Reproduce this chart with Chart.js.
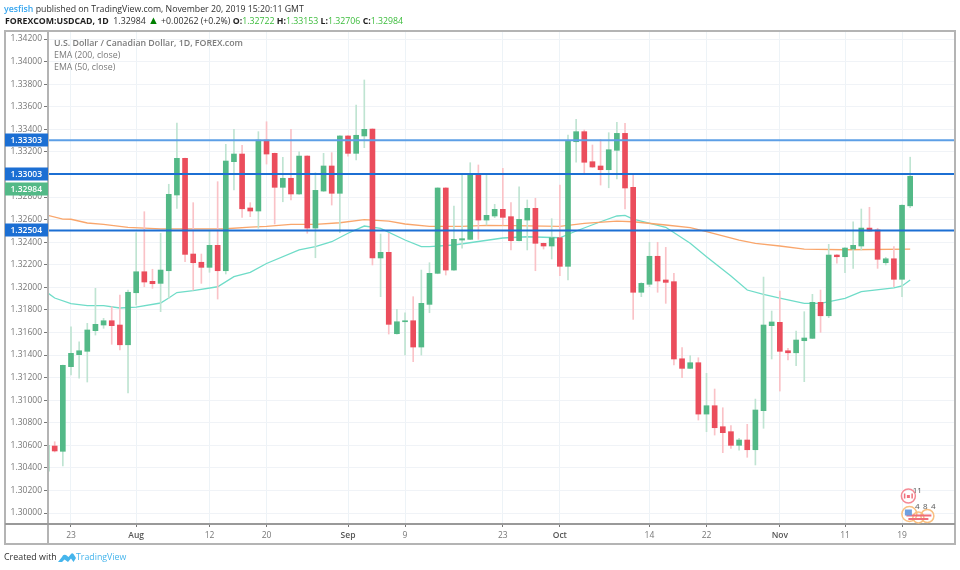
<!DOCTYPE html>
<html>
<head>
<meta charset="utf-8">
<title>USDCAD</title>
<script src="https://cdn.jsdelivr.net/npm/chart.js@4/dist/chart.umd.min.js"></script>
<style>
  html, body { margin: 0; padding: 0; background: #fff; }
  body { width: 960px; height: 570px; position: relative; overflow: hidden; font-family: "Open Sans", sans-serif; }
  #wrap { position: absolute; left: 0; top: 0; width: 960px; height: 570px; }
  .txt { position: absolute; white-space: nowrap; }
  #line1 { left: 4px; top: 2px; font-size: 8.75px; line-height: 14px; color: #2f2f2f; }
  #line1 b { color: #37a6ef; font-weight: 600; }
  #line2 { left: 5px; top: 14px; font-size: 8.75px; line-height: 14px; color: #2f2f2f; }
  #line2 b { font-weight: 700; color: #1e1e1e; }
  #line2 i { font-style: normal; color: #3cbc3c; }
  #line2 u { text-decoration: none; color: #008000; font-size: 11px; line-height: 10px; }
  .legend { left: 54px; font-size: 8.8px; line-height: 12px; color: #7b7b7b; }
  #foot { left: 4px; top: 550px; font-size: 8.9px; line-height: 14px; color: #2f2f2f; }
  #foot2 { left: 76px; top: 550px; font-size: 8.8px; line-height: 14px; color: #46b5ec; }
  #logo { position: absolute; left: 58px; top: 552px; }
</style>
</head>
<body>
<div id="wrap"><canvas id="usdcad" width="960" height="570"></canvas></div>
<div class="txt" id="line1"><b>yesfish</b> published on TradingView.com, November 20, 2019 15:20:11 GMT</div>
<div class="txt" id="line2"><b>FOREXCOM:USDCAD, 1D</b> &nbsp;1.32984 <u>▲</u> +0.00262 (+0.2%) <b>O:</b><i>1.32722</i> <b>H:</b><i>1.33153</i> <b>L:</b><i>1.32706</i> <b>C:</b><i>1.32984</i></div>
<div class="txt legend" style="top:37px;font-weight:600">U.S. Dollar / Canadian Dollar, 1D, FOREX.com</div>
<div class="txt legend" style="top:49px">EMA (200, close)</div>
<div class="txt legend" style="top:61px">EMA (50, close)</div>
<div class="txt" id="foot">Created with</div>
<svg id="logo" width="18" height="11" viewBox="0 0 18 11"><path d="M0 10 L4 5 Q5 2 8 3 L10.5 5 L13 2 Q14 0.5 15.5 2 L18 6 L15.5 10 L13 6.5 L10 10 L6.5 7.5 L4 10 Z" fill="#46b5ec"/></svg>
<div class="txt" id="foot2">TradingView</div>

<script>
// Candles, one entry per daily bar
const opens = [
  1.30370, 1.30594, 1.30547, 1.31297, 1.31403, 1.31433, 1.31616, 1.31666, 1.31704, 1.31666,
  1.31491, 1.31952, 1.32138, 1.32053, 1.32035, 1.32147, 1.32818, 1.33143, 1.32295, 1.32222,
  1.32177, 1.32372, 1.32147, 1.33113, 1.33181, 1.32703, 1.32676, 1.33305, 1.33187, 1.32886,
  1.32966, 1.32827, 1.33163, 1.32525, 1.32853, 1.33075, 1.32833, 1.33341, 1.33187, 1.33341,
  1.33403, 1.32260, 1.32310, 1.31589, 1.31695, 1.31704, 1.31471, 1.31849, 1.32124, 1.32880,
  1.32153, 1.32419, 1.32425, 1.33004, 1.32596, 1.32632, 1.32691, 1.32626, 1.32413, 1.32596,
  1.32700, 1.32390, 1.32366, 1.32439, 1.32186, 1.33290, 1.33379, 1.33113, 1.33075, 1.33042,
  1.33214, 1.33364, 1.32886, 1.31956, 1.32027, 1.32275, 1.32065, 1.32050, 1.31367, 1.31282,
  1.31332, 1.30877, 1.30951, 1.30765, 1.30721, 1.30600, 1.30647, 1.30561, 1.30907, 1.31660,
  1.31690, 1.31438, 1.31420, 1.31527, 1.31548, 1.31867, 1.31748, 1.32286, 1.32271, 1.32339,
  1.32366, 1.32525, 1.32508, 1.32218, 1.32253, 1.32071, 1.32722
];
const highs = [
  1.30610, 1.30632, 1.31312, 1.31651, 1.31518, 1.31681, 1.31991, 1.31725, 1.31828, 1.31932,
  1.31976, 1.32484, 1.32670, 1.32160, 1.32479, 1.32913, 1.33456, 1.33146, 1.32750, 1.32295,
  1.32508, 1.32936, 1.33267, 1.33400, 1.33258, 1.32750, 1.33379, 1.33467, 1.33190, 1.33152,
  1.33400, 1.33201, 1.33166, 1.33015, 1.33187, 1.33193, 1.33344, 1.33344, 1.33615, 1.33837,
  1.33405, 1.32472, 1.32479, 1.31805, 1.31775, 1.31917, 1.32153, 1.32218, 1.32883, 1.32883,
  1.32720, 1.33004, 1.33104, 1.33084, 1.33010, 1.32735, 1.33054, 1.32750, 1.32891, 1.32774,
  1.32789, 1.32393, 1.32608, 1.32906, 1.33349, 1.33489, 1.33394, 1.33261, 1.33311, 1.33370,
  1.33462, 1.33453, 1.32995, 1.32041, 1.32399, 1.32399, 1.32354, 1.32124, 1.31465, 1.31394,
  1.31376, 1.31238, 1.31099, 1.30933, 1.30774, 1.30662, 1.30786, 1.31010, 1.32091, 1.31790,
  1.31967, 1.31459, 1.31613, 1.31784, 1.31938, 1.31976, 1.32381, 1.32289, 1.32351, 1.32581,
  1.32694, 1.32709, 1.32523, 1.32266, 1.32360, 1.32730, 1.33153
];
const lows = [
  1.30355, 1.30541, 1.30417, 1.31223, 1.31196, 1.31161, 1.31577, 1.31637, 1.31495, 1.31445,
  1.31064, 1.31843, 1.32005, 1.31991, 1.31784, 1.31903, 1.32700, 1.32227, 1.31976, 1.32035,
  1.32133, 1.31896, 1.32118, 1.32862, 1.32620, 1.32626, 1.32523, 1.33092, 1.32561, 1.32758,
  1.32774, 1.32822, 1.32479, 1.32262, 1.32849, 1.32729, 1.32484, 1.33163, 1.33128, 1.33237,
  1.32198, 1.31917, 1.31586, 1.31586, 1.31400, 1.31341, 1.31400, 1.31775, 1.32120, 1.32109,
  1.32149, 1.32346, 1.32422, 1.32425, 1.32552, 1.32617, 1.32552, 1.32331, 1.32411, 1.32331,
  1.32147, 1.32339, 1.32251, 1.32103, 1.32065, 1.33108, 1.33004, 1.33062, 1.32906, 1.32882,
  1.32960, 1.32694, 1.31716, 1.31917, 1.32005, 1.31956, 1.31858, 1.31312, 1.31199, 1.31279,
  1.30824, 1.30721, 1.30691, 1.30535, 1.30573, 1.30558, 1.30494, 1.30426, 1.30751, 1.31365,
  1.31081, 1.31356, 1.31305, 1.31164, 1.31545, 1.31601, 1.31731, 1.32213, 1.32129, 1.32168,
  1.32331, 1.32496, 1.32168, 1.32198, 1.32005, 1.31917, 1.32706
];
const closes = [
  1.30600, 1.30550, 1.31309, 1.31415, 1.31438, 1.31622, 1.31672, 1.31704, 1.31660, 1.31491,
  1.31956, 1.32138, 1.32047, 1.32032, 1.32153, 1.32824, 1.33143, 1.32292, 1.32218, 1.32177,
  1.32372, 1.32147, 1.33119, 1.33181, 1.32696, 1.32676, 1.33305, 1.33181, 1.32886, 1.32966,
  1.32827, 1.33163, 1.32525, 1.32859, 1.33075, 1.32833, 1.33341, 1.33187, 1.33347, 1.33400,
  1.32260, 1.32310, 1.31672, 1.31695, 1.31704, 1.31471, 1.31858, 1.32124, 1.32880, 1.32153,
  1.32425, 1.32431, 1.33004, 1.32596, 1.32638, 1.32691, 1.32620, 1.32413, 1.32602, 1.32700,
  1.32390, 1.32366, 1.32439, 1.32186, 1.33299, 1.33379, 1.33108, 1.33066, 1.33042, 1.33219,
  1.33364, 1.32880, 1.31956, 1.32035, 1.32275, 1.32056, 1.32044, 1.31365, 1.31282, 1.31332,
  1.30877, 1.30951, 1.30756, 1.30712, 1.30600, 1.30647, 1.30561, 1.30913, 1.31666, 1.31693,
  1.31433, 1.31420, 1.31533, 1.31551, 1.31867, 1.31748, 1.32286, 1.32271, 1.32348, 1.32372,
  1.32525, 1.32499, 1.32248, 1.32253, 1.32071, 1.32727, 1.32984
];

const ema200Bars = [0, 2, 3, 5, 7, 10, 12, 14, 19, 22, 25, 27, 30, 33, 36, 39, 42, 44, 47, 51, 54, 57, 63, 66, 70, 72, 76, 79, 81, 85, 87, 90, 93, 98, 106];
const ema200 = [
  1.32641, 1.32605, 1.32603, 1.32570, 1.32558, 1.32532, 1.32525, 1.32517, 1.32517, 1.32519,
  1.32534, 1.32540, 1.32558, 1.32558, 1.32572, 1.32599, 1.32587, 1.32561, 1.32540, 1.32540,
  1.32549, 1.32546, 1.32540, 1.32567, 1.32587, 1.32581, 1.32552, 1.32528, 1.32493, 1.32419,
  1.32390, 1.32366, 1.32339, 1.32333, 1.32339
];
const ema50Bars = [0, 1, 3, 5, 7, 9, 11, 14, 15, 16, 18, 21, 23, 25, 27, 31, 33, 35, 37, 39, 41, 44, 46, 47, 50, 53, 56, 59, 63, 65, 68, 70, 71, 72, 76, 79, 81, 84, 86, 88, 90, 93, 95, 98, 100, 104, 105, 106];
const ema50 = [
  1.31958, 1.31905, 1.31856, 1.31837, 1.31837, 1.31817, 1.31825, 1.31861, 1.31905, 1.31954,
  1.31970, 1.32005, 1.32094, 1.32133, 1.32211, 1.32331, 1.32360, 1.32404, 1.32479, 1.32543,
  1.32523, 1.32419, 1.32360, 1.32360, 1.32375, 1.32406, 1.32437, 1.32448, 1.32439, 1.32499,
  1.32581, 1.32632, 1.32638, 1.32605, 1.32532, 1.32390, 1.32271, 1.32100, 1.31976, 1.31938,
  1.31905, 1.31858, 1.31858, 1.31903, 1.31961, 1.31996, 1.32012, 1.32065
];

// Horizontal levels and the price labels on the axis
const levels = [1.33303, 1.33003, 1.32504];
const levelColors = ['#5d9fe6', '#1c6fd3', '#1c6fd3'];
const lastPrice = 1.32984;

// Axis ticks
const yTicks = [1.34200, 1.34000, 1.33800, 1.33600, 1.33400, 1.33200, 1.33000, 1.32800, 1.32600, 1.32400, 1.32200, 1.32000, 1.31800, 1.31600, 1.31400, 1.31200, 1.31000, 1.30800, 1.30600, 1.30400, 1.30200, 1.30000];
const xTickBars = [3, 11, 20, 27, 37, 44, 56, 63, 74, 81, 90, 98, 105];
const xTickLabels = ['23', 'Aug', '12', '20', 'Sep', '9', '23', 'Oct', '14', '22', 'Nov', '11', '19'];

const xMin = 0.178;
const xMax = 111.5;
const yMin = 1.29903;
const yMax = 1.34271;

const GREEN = '#53b987';
const RED = '#eb4d5c';
const GREEN_WICK = '#bfe4d2';
const RED_WICK = '#fac2c7';
const FONT = '"Open Sans", sans-serif';

function isUp(i) {
  return closes[i] >= opens[i];
}

// month names are printed a bit stronger than day numbers
function isMonth(ctx) {
  if (!ctx.tick) return false;
  return isNaN(Number(xTickLabels[xTickBars.indexOf(ctx.tick.value)]));
}

// Frame, price boxes and the event markers near the last bars
const overlay = {
  id: 'overlay',
  afterDraw(chart) {
    const ctx = chart.ctx;
    const y = chart.scales.y;
    const x = chart.scales.x;
    const area = chart.chartArea;

    ctx.save();
    ctx.strokeStyle = '#b4b4b4';
    ctx.lineWidth = 2;
    ctx.strokeRect(5, 31, 950, 513);
    ctx.beginPath();
    ctx.moveTo(area.left, 31);
    ctx.lineTo(area.left, 544);
    ctx.stroke();
    ctx.strokeStyle = '#999';
    ctx.beginPath();
    ctx.moveTo(5, area.bottom);
    ctx.lineTo(955, area.bottom);
    ctx.stroke();

    // price labels on the axis, the last price sits under the level it would overlap
    ctx.font = '600 8.5px ' + FONT;
    ctx.textAlign = 'right';
    ctx.textBaseline = 'middle';
    const boxes = levels.map(v => ({ v: v, color: '#1c6fd3', shift: 0 }));
    boxes.push({ v: lastPrice, color: GREEN, shift: 13 });
    boxes.forEach(b => {
      const py = Math.round(y.getPixelForValue(b.v)) + b.shift;
      ctx.fillStyle = b.color;
      ctx.fillRect(5, py - 6.5, 43, 13);
      ctx.fillStyle = '#fff';
      ctx.fillText(b.v.toFixed(5), 42, py + 0.5);
    });

    // event markers, Canada then the three US ones
    const mx = x.getPixelForValue(105.9);
    const bottom = y.getPixelForValue(yMin);
    ctx.lineWidth = 1.5;
    ctx.strokeStyle = '#f58a95';
    ctx.beginPath();
    ctx.arc(mx - 1, bottom - 28, 7, 0, Math.PI * 2);
    ctx.stroke();
    ctx.fillStyle = '#f0707c';
    ctx.fillRect(mx - 5.5, bottom - 30.5, 1.5, 5);
    ctx.fillRect(mx + 2, bottom - 30.5, 1.5, 5);
    ctx.fillRect(mx - 2.5, bottom - 29, 3, 3);

    ctx.strokeStyle = '#f9bf80';
    [[0, -10, 7.5], [9, -6.5, 5.5], [18, -8, 6.5]].forEach(o => {
      ctx.beginPath();
      ctx.arc(mx + o[0], bottom + o[1], o[2], 0, Math.PI * 2);
      ctx.stroke();
    });
    ctx.fillStyle = '#ef6f7b';
    ctx.fillRect(mx - 3, bottom - 9.5, 25, 2);
    ctx.fillRect(mx - 1, bottom - 6, 20, 2);
    ctx.fillStyle = '#6f9fe0';
    ctx.fillRect(mx - 4.5, bottom - 14.5, 7, 6);

    ctx.fillStyle = '#555';
    ctx.font = '8px ' + FONT;
    ctx.textAlign = 'center';
    ctx.fillText('11', mx + 8, bottom - 33);
    ctx.fillText('4', mx + 8, bottom - 17);
    ctx.fillText('8', mx + 16, bottom - 17);
    ctx.fillText('4', mx + 24, bottom - 17);
    ctx.restore();
  }
};

const datasets = [
  {
    type: 'bar',
    order: 3,
    grouped: false,
    barThickness: 1,
    data: highs.map((h, i) => ({ x: i, y: [lows[i], h] })),
    backgroundColor: highs.map((h, i) => isUp(i) ? GREEN_WICK : RED_WICK)
  },
  {
    type: 'bar',
    order: 2,
    grouped: false,
    barThickness: 5,
    data: opens.map((o, i) => ({ x: i, y: [o, closes[i]] })),
    backgroundColor: opens.map((o, i) => isUp(i) ? GREEN : RED)
  },
  {
    type: 'line',
    order: 4,
    data: ema200.map((v, i) => ({ x: ema200Bars[i], y: v })),
    borderColor: '#f9a66c',
    borderWidth: 1.3,
    pointRadius: 0,
    tension: 0
  },
  {
    type: 'line',
    order: 4,
    data: ema50.map((v, i) => ({ x: ema50Bars[i], y: v })),
    borderColor: '#6fdcc8',
    borderWidth: 1.3,
    pointRadius: 0,
    tension: 0
  }
];

levels.forEach((v, i) => {
  datasets.push({
    type: 'line',
    order: 1,
    data: [{ x: xMin, y: v }, { x: xMax, y: v }],
    borderColor: levelColors[i],
    borderWidth: 2,
    pointRadius: 0
  });
});

new Chart(document.getElementById('usdcad').getContext('2d'), {
  type: 'bar',
  data: { datasets: datasets },
  options: {
    responsive: false,
    animation: false,
    layout: { padding: { left: 4, right: 5, top: 31, bottom: 26 }, autoPadding: false },
    plugins: { legend: { display: false }, tooltip: { enabled: false } },
    scales: {
      x: {
        type: 'linear',
        min: xMin,
        max: xMax,
        offset: false,
        border: { display: false },
        grid: { offset: false, color: '#edf3f7', tickColor: '#777', tickLength: 3 },
        afterBuildTicks(scale) {
          scale.ticks = xTickBars.map(v => ({ value: v }));
        },
        afterFit(scale) {
          scale.height = 20;
        },
        ticks: {
          autoSkip: false,
          maxRotation: 0,
          padding: 3,
          color: ctx => isMonth(ctx) ? '#555' : '#777',
          font: ctx => ({ family: FONT, size: 8.5, weight: isMonth(ctx) ? '600' : '400' }),
          callback(value) {
            return xTickLabels[xTickBars.indexOf(value)];
          }
        }
      },
      y: {
        type: 'linear',
        min: yMin,
        max: yMax,
        border: { display: false },
        grid: { color: '#f0f3f7', tickColor: '#777', tickLength: 4 },
        afterBuildTicks(scale) {
          scale.ticks = yTicks.map(v => ({ value: v }));
        },
        afterFit(scale) {
          scale.width = 44;
        },
        ticks: {
          autoSkip: false,
          padding: 2,
          color: '#777',
          font: { family: FONT, size: 8.5 },
          callback(value) {
            return value.toFixed(5);
          }
        }
      }
    }
  },
  plugins: [overlay]
});
</script>
</body>
</html>
